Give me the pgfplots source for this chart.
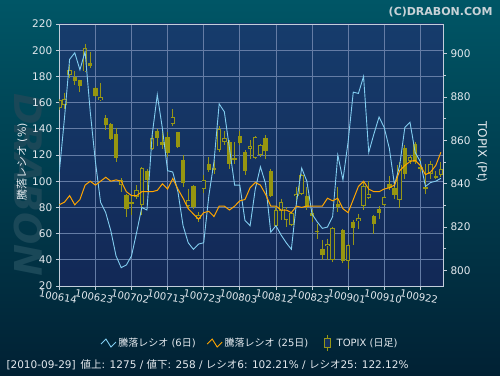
\documentclass[border=0pt]{standalone}
\usepackage{pgfplots}
\pgfplotsset{compat=1.18}
\usepackage{pgfplotstable}
\usepackage{fontspec}
\setmainfont{DejaVu Sans}
\newfontfamily\cjk{Noto Sans CJK JP}
\definecolor{bgtop}{RGB}{0,86,102}
\definecolor{bgbot}{RGB}{1,33,52}
\definecolor{patop}{RGB}{22,60,108}
\definecolor{pabot}{RGB}{18,40,86}
\definecolor{gridc}{RGB}{100,124,165}
\definecolor{axisc}{RGB}{195,205,218}
\definecolor{labc}{RGB}{228,233,238}
\definecolor{candle}{RGB}{150,150,22}
\definecolor{candlef}{RGB}{150,150,16}
\definecolor{navyin}{RGB}{20,48,94}
\definecolor{csix}{RGB}{130,205,240}
\definecolor{ctwf}{RGB}{255,165,0}
\definecolor{wm}{RGB}{26,72,88}
\definecolor{copyc}{RGB}{200,210,215}

\pgfplotstableread{
i r6 r25 o h l c
0 107 82 875 879 874 878.5
1 148 84 876.5 882 874.5 879
2 193 89 890.3 895 889 892.3
3 198 82 889.2 891.8 885.7 887.4
4 185 86 887.7 888 882.3 884.9
5 199 97 891.8 904.6 891.5 902.6
6 153 100 895.5 900.8 893.4 894.3
7 115 97 884.2 884.5 880 880.5
8 84 100 878.8 886.5 878.3 879.8
9 76 103 870.3 871.5 864.6 867.2
10 62 100 867.4 868 860 860.8
11 43 101 862.8 865.7 850 852
12 34 100 839.2 842.6 836.2 841.5
13 36 92 834.6 835.4 824.6 828.5
14 43 89 831.5 834.6 825.7 830.8
15 61 89 833.8 839.2 833.1 836.9
16 80 92 830 847.6 825.4 847.4
17 78 92 845.8 846.9 836.9 841.5
18 135 92 856.2 862.3 855.4 861.1
19 166 93 864.2 865.4 857.4 861.1
20 140 98 859.2 865 856 857.7
21 108 94 861.4 863.8 852.3 854.3
22 107 102 867.7 874.3 866.6 870.8
23 92 94 863.8 864 856.5 856.8
24 66 87 850.8 853.1 838.5 840.5
25 53 79 829.7 837.7 828.5 832.3
26 48 75 838.9 839.2 828.5 829.2
27 52 71 823.5 826.9 822.3 825.4
28 53 76 837.4 844.2 835.8 841.5
29 89 77 848.9 852.3 845.4 846.2
30 115 73 846.5 850.8 844.6 847
31 159 81 855.7 866.6 854.6 865.4
32 153 81 859.2 864.2 858 861.2
33 125 78 859.2 860 846.9 849.2
34 97 81 851.8 859.2 849.2 850.8
35 97 85 862 864.2 857.7 858.9
36 70 86 854.6 855.4 844.2 846
37 66 95 856.2 860 851.5 857.4
38 94 99 851.8 861.8 851.5 861.5
39 111 97 853.4 858.5 852.3 857.7
40 98 90 861.1 862.3 851.2 854.9
41 61 81 845.8 846.9 833.8 834.3
42 66 81 820.5 829.2 820 827.7
43 59 78 827.2 833.1 823.1 831.5
44 53 78 823.1 829.2 820 828.5
45 48 76 820.8 827 820.5 826.6
46 84 81 834.2 838.5 830.8 835.4
47 110 80 835.4 844.5 834.8 843.8
48 100 81 834.3 838.5 827.7 829.2
49 75 81 826.6 827.7 822.3 824.9
50 69 81 818.3 821.5 814.6 817.7
51 64 81 809.7 813.8 804.6 807.2
52 65 87 811.1 814.6 804.6 812
53 73 85 804.6 820 804 819.7
54 120 87 830.8 838.5 826.9 829.2
55 101 79 818.5 819.2 803.5 804.2
56 130 76 804.2 812.3 800.8 811.5
57 168 86 822.3 823 811.8 819.5
58 167 96 822.6 826.2 818.9 824.2
59 180 100 829.7 840.8 827.7 838.8
60 122 94 833.5 841 832.8 835.1
61 136 92 825.1 825.7 816.9 821.2
62 149 92 828.2 829.7 823.8 826.6
63 141 94 830.3 834.5 829.8 833.8
64 125 95 840 843.5 836.9 838
65 97 97 838 840.8 833.1 834.9
66 112 108 832.3 850 828.8 848.8
67 141 112 856.6 857.7 842.3 844.6
68 145 115 850.3 853.4 849.2 852.3
69 122 116 858.5 859.2 849.2 850
70 115 112 847.7 851.8 845.4 846.6
71 96 105 838.6 849.2 835.4 837.7
72 99 107 844.6 850.5 842.3 849.2
73 100 112 843.5 845.7 842 843
74 102.2 122.1 844.2 850 843.1 846.9
}\data

\pgfplotsset{
  base/.style={at={(59.3pt,89pt)}, anchor=south west, scale only axis,
    width=383.7pt, height=262pt, xmin=0, xmax=74.4},
}

\begin{document}
\begin{tikzpicture}[x=1pt,y=1pt]
\shade[top color=bgtop, bottom color=bgbot] (0,0) rectangle (500,375);
\useasboundingbox (0,0) rectangle (500,375);
\node[rotate=-90, font=\fontsize{38}{40}\selectfont\bfseries\itshape, text=wm] at (28,190) {DRABON};
\node[anchor=north east, font=\fontsize{11}{13}\selectfont\bfseries, text=copyc] at (496,371) {(C)DRABON.COM};

% axis 1: frame, grid, left ticks, x ticks
\begin{axis}[base, ymin=20, ymax=220, ytick={20,40,...,220},
  xtick={0,7,...,70},
  xticklabels={100614,100623,100702,100713,100723,100803,100812,100823,100901,100910,100922},
  grid=major, grid style={gridc, line width=0.7pt},
  axis line style={axisc, line width=0.8pt},
  tick style={axisc, line width=0.8pt}, tick align=outside,
  xtick pos=bottom, ytick pos=left,
  major tick length=3.5pt,
  ticklabel style={text=labc, font=\fontsize{10.5}{12}\selectfont},
  xticklabel style={rotate=-10, anchor=north, font=\fontsize{10}{12}\selectfont},
  /pgf/number format/assume math mode=true,
  axis background/.style={shade, top color=patop, bottom color=pabot},
]
\end{axis}

% axis 2: TOPIX candles, right axis
\begin{axis}[base, ymin=792.75, ymax=913.7,
  axis y line*=right, axis x line=none,
  ytick={800,820,...,900}, minor y tick num=1,
  y axis line style={axisc, line width=0.8pt},
  tick style={axisc, line width=0.8pt}, tick align=outside,
  major tick length=4pt, minor tick length=2.5pt,
  ticklabel style={text=labc, font=\fontsize{10.5}{12}\selectfont},
  /pgf/number format/assume math mode=true,
]
% wicks
\addplot[draw=none, mark=none, forget plot,
  error bars/.cd, y dir=minus, y explicit, error mark=none,
  error bar style={draw=candle, line width=0.9pt}]
  table[x=i, y=h, y error expr=\thisrow{h}-\thisrow{l}] {\data};
% filled (down) bodies
\addplot[draw=none, mark=none, forget plot,
  restrict expr to domain={\thisrow{o}-\thisrow{c}}{0.0001:1000},
  error bars/.cd, y dir=minus, y explicit, error mark=none,
  error bar style={draw=candlef, line width=4.4pt}]
  table[x=i, y=o, y error expr={max(\thisrow{o}-\thisrow{c},0.7)}] {\data};
% hollow (up) bodies: outer
\addplot[draw=none, mark=none, forget plot,
  restrict expr to domain={\thisrow{c}-\thisrow{o}}{0:1000},
  error bars/.cd, y dir=minus, y explicit, error mark=none,
  error bar style={draw=candle, line width=4.4pt}]
  table[x=i, y=c, y error expr={max(\thisrow{c}-\thisrow{o},0.7)}] {\data};
% hollow (up) bodies: inner
\addplot[draw=none, mark=none, forget plot,
  restrict expr to domain={\thisrow{c}-\thisrow{o}}{0:1000},
  error bars/.cd, y dir=both, y explicit, error mark=none,
  error bar style={draw=navyin, line width=2.6pt}]
  table[x=i, y expr={(\thisrow{c}+\thisrow{o})/2}, y error expr={max((\thisrow{c}-\thisrow{o})/2-0.42,0)}] {\data};
\end{axis}

% axis 3: ratio lines + legend
\begin{axis}[base, ymin=20, ymax=220, hide axis,
  legend style={draw=none, fill=none, text=labc,
    font=\fontsize{10}{12}\selectfont,
    at={(0.497,-0.2176)}, anchor=center, legend columns=3,
    /tikz/every even column/.append style={column sep=9pt}},
  legend image code/.code={\draw[#1, line width=0.9pt] (0pt,-1pt) -- (5pt,4pt) -- (10pt,-4pt) -- (15pt,1pt);},
]
\addplot[csix, line width=0.9pt] table[x=i, y=r6] {\data};
\addplot[ctwf, line width=1pt] table[x=i, y=r25] {\data};
\addlegendimage{legend image code/.code={
  \path (0pt,0pt) (15pt,0pt);
  \draw[candle, line width=0.8pt] (7.5pt,-8pt) -- (7.5pt,8pt);
  \filldraw[draw=candle, fill=navyin, line width=0.8pt] (4.5pt,-4.5pt) rectangle (10.5pt,4.5pt);}}
\legend{{\cjk 騰落レシオ} (6{\cjk 日}), {\cjk 騰落レシオ} (25{\cjk 日}), TOPIX ({\cjk 日足})}
\end{axis}

\node[rotate=90, text=labc, font=\fontsize{11}{13}\selectfont] at (22,213) {{\cjk 騰落レシオ} (\%)};
\node[rotate=-90, text=labc, font=\fontsize{12}{14}\selectfont] at (482,223) {TOPIX (Pt)};
\node[anchor=west, text=labc, font=\fontsize{10.5}{12}\selectfont] at (3,10)
  {[2010-09-29]\hspace{5pt}{\cjk 値上}: 1275 / {\cjk 値下}: 258 / {\cjk レシオ}6: 102.21\% / {\cjk レシオ}25: 122.12\%};
\end{tikzpicture}
\end{document}
